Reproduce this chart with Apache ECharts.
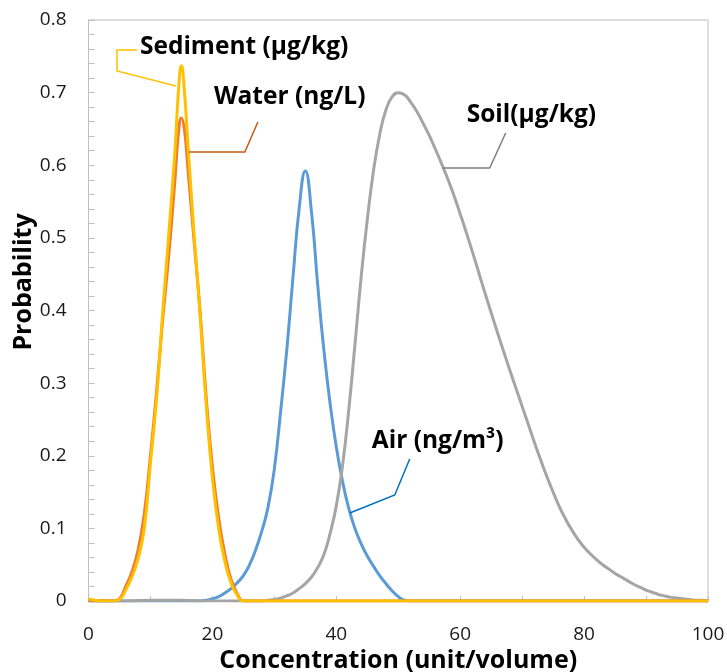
<!DOCTYPE html>
<html>
<head>
<meta charset="utf-8">
<script src="https://cdn.jsdelivr.net/npm/echarts@6/dist/echarts.min.js"></script>
<style>
html,body{margin:0;padding:0;background:#fff;}
#main{width:727px;height:672px;}
</style>
</head>
<body>
<div id="main"></div>
<script>
// ---- Data ----
const sedimentX = [0,1,2,3,4,5,6,7,8,9,10,11,12,13,14,14.5,15,15.5,16,17,18,19,20,21,22,23,24,25,26,30,40,50,60,70,80,90,100];
const sedimentY = [0.003,0.001,0,0,0,0.002,0.015,0.033,0.058,0.1,0.19,0.28,0.40,0.51,0.625,0.70,0.737,0.70,0.635,0.51,0.395,0.27,0.17,0.10,0.055,0.025,0.008,0,0,0,0,0,0,0,0,0,0];

const waterX = [0,2,4,5,6,7,8,9,10,11,12,13,14,14.5,15,15.5,16,17,18,19,20,21,22,23,24,25,26,30,40,50,60,70,80,90,100];
const waterY = [0.001,0,0,0.003,0.02,0.04,0.07,0.12,0.2,0.29,0.39,0.48,0.585,0.643,0.665,0.648,0.60,0.50,0.40,0.28,0.185,0.115,0.065,0.03,0.01,0,0,0,0,0,0,0,0,0,0];

const airX = [0,5,10,15,18,19,20,21,22,23,24,25,26,27,28,29,30,31,32,33,34,35,36,37,38,39,40,41,42,43,44,45,46,47,48,49,50,51,52,60,70,80,90,100];
const airY = [0,0,0,0,0,0.001,0.003,0.006,0.011,0.017,0.025,0.035,0.05,0.071,0.097,0.13,0.182,0.26,0.345,0.445,0.54,0.592,0.535,0.435,0.345,0.272,0.212,0.165,0.128,0.1,0.079,0.062,0.048,0.035,0.024,0.014,0.006,0.001,0,0,0,0,0,0];

const soilX = [0,5,10,15,20,25,28,29,30,31,32,33,34,35,36,37,38,39,40,41,42,43,44,45,46,47,48,49,50,51,52,53,54,55,56,57,58,59,60,61,62,63,64,65,66,67,68,69,70,71,72,73,74,75,76,77,78,79,80,81,82,83,84,85,86,87,88,89,90,91,92,93,94,95,96,97,98,99,100];
const soilY = [0,0,0.001,0.001,0,0,0,0.001,0.002,0.004,0.007,0.011,0.017,0.024,0.033,0.046,0.064,0.093,0.131,0.186,0.262,0.352,0.445,0.525,0.592,0.642,0.676,0.694,0.700,0.697,0.687,0.674,0.658,0.641,0.622,0.602,0.581,0.558,0.533,0.507,0.480,0.452,0.424,0.397,0.370,0.344,0.318,0.293,0.268,0.243,0.218,0.194,0.171,0.150,0.130,0.113,0.098,0.085,0.074,0.065,0.057,0.050,0.044,0.038,0.033,0.028,0.023,0.019,0.015,0.012,0.009,0.007,0.005,0.004,0.003,0.002,0.001,0.001,0];

const xTicks = {min:0, max:100, interval:20};
const yTicks = {min:0, max:0.8, interval:0.1};

// label anchors (data coordinates) : text position and leader polylines
const labels = [
  {name:'Sediment (μg/kg)', at:[8.3,0.763], line:[[7.82,0.7587],[4.6,0.7587],[4.6,0.7298],[14.11,0.7091]], color:'#FFC000'},
  {name:'Water (ng/L)', at:[20.24,0.694], line:[[27.34,0.6595],[25.24,0.6182],[16.21,0.6182]], color:'#C55A11'},
  {name:'Soil(μg/kg)', at:[61.05,0.669], line:[[67.34,0.6444],[64.76,0.5961],[57.18,0.5961]], color:'#7F7F7F'},
  {name:'Air (ng/m³)', at:[45.73,0.2203], line:[[51.85,0.1955],[49.44,0.146],[42.18,0.1212]], color:'#0070C0'}
];

const zip = (xs, ys) => xs.map((x,i)=>[x, ys[i]]);
const FONT = '"Open Sans", Lato, sans-serif';

const chart = echarts.init(document.getElementById('main'), null, {renderer:'canvas'});
const lineSeries = (name, xs, ys, color) => ({
  name, type:'line', data: zip(xs, ys), smooth:0.5, showSymbol:false, symbol:'none',
  lineStyle:{color, width:3}, itemStyle:{color}, animation:false
});

chart.setOption({
  animation:false,
  grid:{left:88.5, right:19, top:20, bottom:71, show:true, borderColor:'#BFBFBF', borderWidth:1, backgroundColor:'transparent', containLabel:false, outerBoundsMode:'none'},
  xAxis:{
    type:'value', min:xTicks.min, max:xTicks.max, interval:xTicks.interval,
    name:'Concentration (unit/volume)', nameLocation:'middle', nameGap:47, nameMoveOverlap:false,
    nameTextStyle:{fontFamily:FONT, fontWeight:'bold', fontSize:25, color:'#000'},
    axisLine:{show:true, lineStyle:{color:'#BFBFBF', width:1}},
    axisTick:{show:true, inside:true, length:5, lineStyle:{color:'#BFBFBF'}},
    minorTick:{show:true, splitNumber:2, length:5, lineStyle:{color:'#BFBFBF'}},
    axisLabel:{fontFamily:FONT, fontSize:19, color:'#1a1a1a', margin:24},
    splitLine:{show:false}
  },
  yAxis:{
    type:'value', min:yTicks.min, max:yTicks.max, interval:yTicks.interval,
    name:'Probability', nameLocation:'middle', nameGap:52, nameMoveOverlap:false,
    nameTextStyle:{fontFamily:FONT, fontWeight:'bold', fontSize:25, color:'#000', padding:[0,0,0,57]},
    axisLine:{show:true, lineStyle:{color:'#BFBFBF', width:1}},
    axisTick:{show:true, inside:true, length:6, lineStyle:{color:'#BFBFBF'}},
    minorTick:{show:true, splitNumber:5, length:6, lineStyle:{color:'#BFBFBF'}},
    axisLabel:{fontFamily:FONT, fontSize:19, color:'#1a1a1a', margin:22},
    splitLine:{show:false}
  },
  series:[
    lineSeries('Air (ng/m³)', airX, airY, '#5B9BD5'),
    lineSeries('Soil(μg/kg)', soilX, soilY, '#A5A5A5'),
    lineSeries('Water (ng/L)', waterX, waterY, '#ED7D31'),
    lineSeries('Sediment (μg/kg)', sedimentX, sedimentY, '#FFC000')
  ]
});

const toPx = p => chart.convertToPixel({gridIndex:0}, p);
const graphics = [];
labels.forEach(l => {
  graphics.push({type:'polyline', shape:{points:l.line.map(toPx)}, style:{stroke:l.color, lineWidth:1.5, fill:null}, z:10});
  const p = toPx(l.at);
  graphics.push({type:'text', x:p[0], y:p[1], style:{text:l.name, font:'bold 24.5px ' + FONT, fill:'#000', textAlign:'left', textVerticalAlign:'middle'}, z:11});
});
chart.setOption({graphic:graphics});
</script>
</body>
</html>
